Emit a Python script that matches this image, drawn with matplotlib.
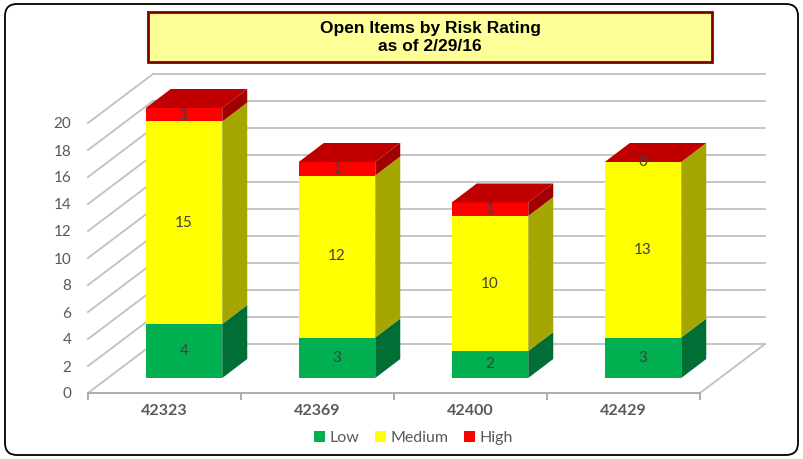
import matplotlib
matplotlib.use("Agg")
import matplotlib.pyplot as plt
from matplotlib.patches import Polygon, FancyBboxPatch, Patch

# ---- data ----
categories = ["42323", "42369", "42400", "42429"]
low = [4, 3, 2, 3]
medium = [15, 12, 10, 13]
high = [1, 1, 1, 0]
series_names = ["Low", "Medium", "High"]
yticks = list(range(0, 21, 2))

# ---- style ----
front_cols = ["#00B050", "#FFFF00", "#FF0000"]
side_cols = ["#006E35", "#A6A600", "#A00000"]
top_col = "#C00000"
grid_col = "#C0C0C0"
txt_col = "#595959"
FONT = ["Lato", "DejaVu Sans"]

W, H = 8.04, 4.59
fig = plt.figure(figsize=(W, H), dpi=100)

# axes in "front plane" coordinates: x -0.5..4.0 -> px 88..776.5, y 0..24 -> px 393..69
px_per_cat = 153.0
px_per_val = 13.5
ax_left = 88 / 804
ax_w = 4.5 * px_per_cat / 804
ax_bottom = (459 - 393) / 459
ax_h = 24 * px_per_val / 459
ax = fig.add_axes([ax_left, ax_bottom, ax_w, ax_h])
ax.set_xlim(-0.5, 4.0)
ax.set_ylim(0, 24)
ax.patch.set_alpha(0)

# depth offsets (converted from pixels to data units)
Dx, Dy = 65 / px_per_cat, 49 / px_per_val          # full floor depth
bx, by = 19.5 / px_per_cat, 15 / px_per_val         # bar front-face offset
ddx, ddy = 25 / px_per_cat, 19 / px_per_val         # bar depth
bw = 0.5

n = len(categories)
x0, x1 = -0.5, n - 0.5

# back wall gridlines and left wall diagonals
for v in yticks:
    ax.plot([x0 + Dx, x1 + Dx], [v + Dy, v + Dy], color=grid_col, lw=1.3, zorder=1, clip_on=False)
    ax.plot([x0, x0 + Dx], [v, v + Dy], color=grid_col, lw=1.3, zorder=1, clip_on=False)
# floor right edge
ax.plot([x1, x1 + Dx], [0, Dy], color=grid_col, lw=1.3, zorder=1, clip_on=False)

# bars
xs = [i + bx for i in range(n)]
bottoms = [by] * n
series = [low, medium, high]
for s, vals in enumerate(series):
    cont = ax.bar(xs, vals, width=bw, bottom=bottoms, color=front_cols[s], zorder=3, linewidth=0)
    for i in range(n):
        xr = xs[i] + bw / 2
        yb = bottoms[i]
        yt = bottoms[i] + vals[i]
        if vals[i] > 0:
            ax.add_patch(Polygon([(xr, yb), (xr + ddx, yb + ddy), (xr + ddx, yt + ddy), (xr, yt)],
                                 closed=True, facecolor=side_cols[s], edgecolor="none", zorder=3))
    ax.bar_label(cont, labels=[str(v) for v in vals], label_type="center",
                 color="#404040", fontsize=11, family=FONT, zorder=5)
    bottoms = [b + v for b, v in zip(bottoms, vals)]

# top faces
for i in range(n):
    xl = xs[i] - bw / 2
    xr = xs[i] + bw / 2
    t = bottoms[i]
    ax.add_patch(Polygon([(xl, t), (xr, t), (xr + ddx, t + ddy), (xl + ddx, t + ddy)],
                         closed=True, facecolor=top_col, edgecolor="none", zorder=4))

# axes styling
for sp in ["top", "right", "left"]:
    ax.spines[sp].set_visible(False)
ax.spines["bottom"].set_bounds(x0, x1)
ax.spines["bottom"].set_color("#A6A6A6")
ax.spines["bottom"].set_linewidth(1.3)
ax.set_yticks(yticks)
ax.set_yticklabels([str(v) for v in yticks], color=txt_col, fontsize=11, family=FONT)
ax.tick_params(axis="y", length=0, pad=12)
ax.set_xticks(range(n))
ax.set_xticklabels(categories, color=txt_col, fontsize=11.5, fontweight="bold", family=FONT)
ax.tick_params(axis="x", which="major", length=0, pad=8)
ax.set_xticks([x0 + k for k in range(n + 1)], minor=True)
ax.tick_params(axis="x", which="minor", length=5, color="#A6A6A6", width=1.3)

# legend
handles = [Patch(facecolor=c, edgecolor="none") for c in front_cols]
leg = fig.legend(handles, series_names, loc="center", bbox_to_anchor=(413.5 / 804, 1 - 438 / 459),
                 ncol=3, frameon=False, handlelength=0.65, handleheight=0.65, handletextpad=0.3,
                 columnspacing=1.0, prop={"family": FONT, "size": 11.5})
for t in leg.get_texts():
    t.set_color(txt_col)

# outer rounded frame (in inches)
frame = FancyBboxPatch((0.05 + 0.1, 0.04 + 0.1), W - 0.11 - 0.2, H - 0.08 - 0.2,
                       boxstyle="round,pad=0.1,rounding_size=0.12", transform=fig.dpi_scale_trans,
                       facecolor="none", edgecolor="black", lw=1.3, zorder=10)
fig.patches.append(frame)

# title box
tb = FancyBboxPatch((1.48, H - 0.62), 7.12 - 1.48, 0.50, boxstyle="square,pad=0",
                    transform=fig.dpi_scale_trans, facecolor="#FFFF99", edgecolor="#7F0000",
                    lw=2, zorder=10)
fig.patches.append(tb)
fig.text(4.30 / W, 1 - 0.375 / H, "Open Items by Risk Rating\nas of 2/29/16", ha="center", va="center",
         fontsize=12.5, fontweight="bold", family=["Liberation Sans", "DejaVu Sans"], linespacing=1.2,
         zorder=11)

fig.savefig("out.png", dpi=100)
